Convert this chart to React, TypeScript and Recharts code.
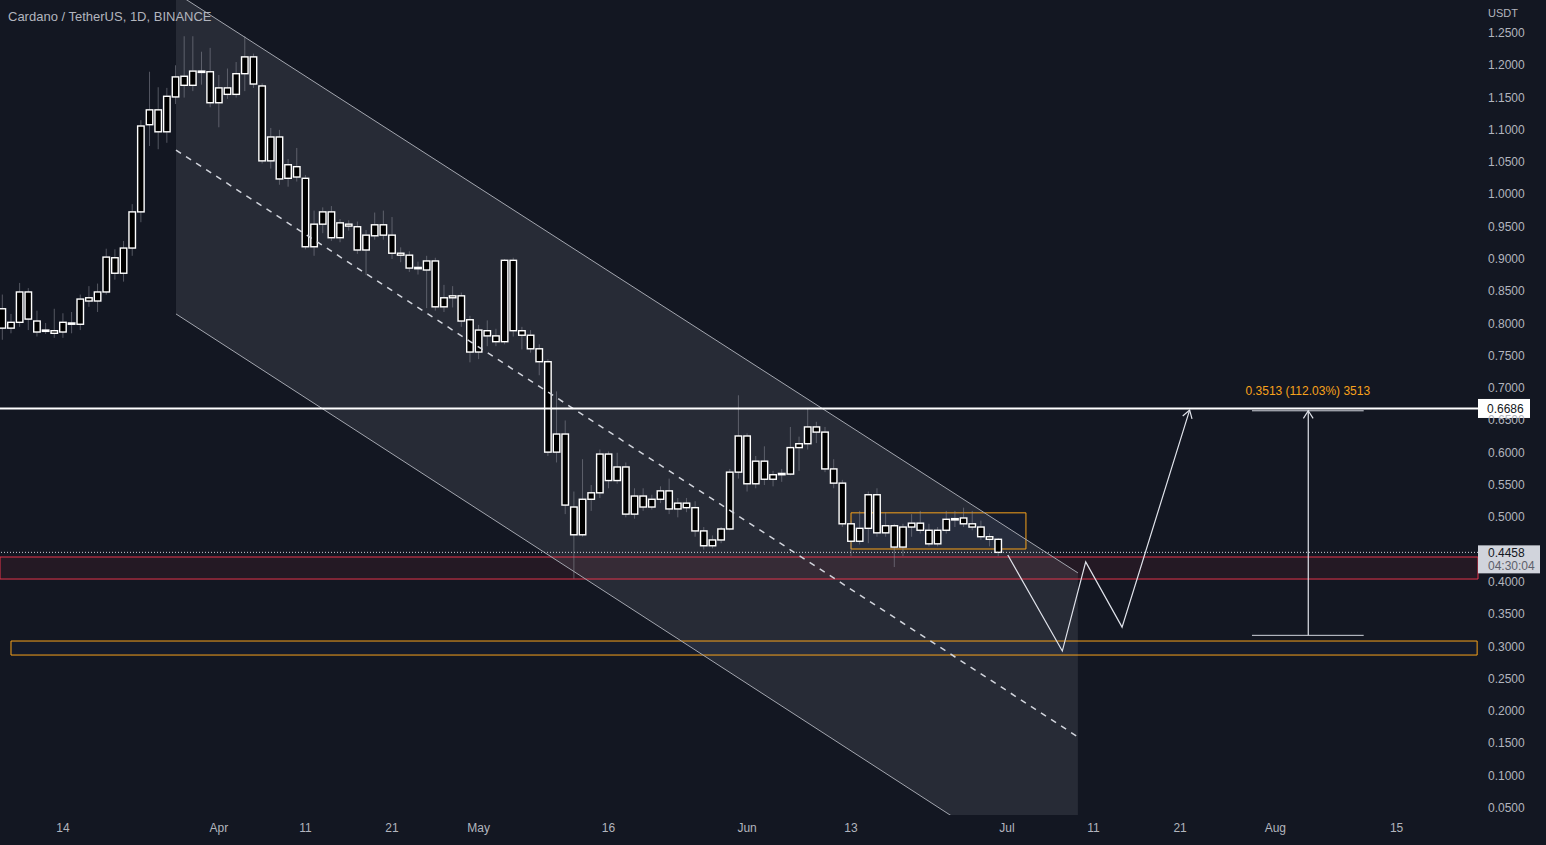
import React from 'react';
import { ComposedChart, Bar, Line, Area, XAxis, YAxis, ReferenceLine, ReferenceArea } from 'recharts';

// Day offsets are counted from 14 Mar 2022 (first candle: 7 Mar 2022)
const FIRST_DAY = -7;

const candleOpen = [
  0.823, 0.793, 0.802, 0.849, 0.804, 0.788, 0.789, 0.787, 0.801, 0.799,
  0.835, 0.835, 0.849, 0.902, 0.878, 0.917, 0.973, 1.108, 1.131, 1.097,
  1.151, 1.183, 1.169, 1.191, 1.190, 1.142, 1.165, 1.155, 1.187, 1.213,
  1.168, 1.052, 1.089, 1.025, 1.043, 1.025, 0.919, 0.954, 0.973, 0.933,
  0.954, 0.950, 0.914, 0.936, 0.953, 0.937, 0.909, 0.906, 0.885, 0.883,
  0.897, 0.826, 0.840, 0.843, 0.806, 0.756, 0.789, 0.781, 0.772, 0.898,
  0.789, 0.782, 0.761, 0.741, 0.601, 0.629, 0.516, 0.473, 0.528, 0.538,
  0.598, 0.557, 0.578, 0.505, 0.533, 0.516, 0.528, 0.541, 0.513, 0.522,
  0.515, 0.479, 0.456, 0.465, 0.482, 0.570, 0.626, 0.552, 0.587, 0.559,
  0.566, 0.567, 0.608, 0.614, 0.640, 0.632, 0.575, 0.553, 0.490, 0.463,
  0.483, 0.535, 0.476, 0.487, 0.454, 0.485, 0.491, 0.480, 0.459, 0.480,
  0.496, 0.499, 0.490, 0.485, 0.470, 0.466,
];
const candleClose = [
  0.793, 0.802, 0.849, 0.807, 0.787, 0.790, 0.785, 0.802, 0.799, 0.838,
  0.840, 0.849, 0.903, 0.878, 0.917, 0.973, 1.106, 1.131, 1.097, 1.152,
  1.182, 1.169, 1.191, 1.189, 1.142, 1.165, 1.155, 1.187, 1.213, 1.171,
  1.052, 1.089, 1.024, 1.046, 1.027, 0.919, 0.954, 0.973, 0.933, 0.956,
  0.951, 0.914, 0.937, 0.953, 0.937, 0.909, 0.906, 0.886, 0.887, 0.897,
  0.826, 0.840, 0.843, 0.804, 0.756, 0.790, 0.781, 0.772, 0.898, 0.789,
  0.782, 0.761, 0.741, 0.601, 0.629, 0.519, 0.473, 0.528, 0.538, 0.598,
  0.557, 0.578, 0.505, 0.533, 0.516, 0.528, 0.541, 0.513, 0.522, 0.515,
  0.479, 0.456, 0.465, 0.482, 0.570, 0.626, 0.552, 0.587, 0.559, 0.566,
  0.568, 0.608, 0.614, 0.640, 0.632, 0.575, 0.553, 0.490, 0.463, 0.483,
  0.535, 0.476, 0.487, 0.454, 0.485, 0.491, 0.480, 0.459, 0.480, 0.497,
  0.498, 0.490, 0.485, 0.470, 0.466, 0.4458,
];
const candleHigh = [
  0.845, 0.815, 0.863, 0.855, 0.820, 0.801, 0.823, 0.816, 0.818, 0.845,
  0.858, 0.862, 0.916, 0.915, 0.928, 0.985, 1.115, 1.190, 1.166, 1.165,
  1.200, 1.245, 1.245, 1.221, 1.227, 1.185, 1.195, 1.205, 1.245, 1.218,
  1.172, 1.103, 1.100, 1.055, 1.072, 1.030, 0.975, 0.980, 0.982, 0.962,
  0.960, 0.958, 0.945, 0.972, 0.975, 0.965, 0.918, 0.912, 0.896, 0.905,
  0.902, 0.860, 0.858, 0.848, 0.812, 0.798, 0.805, 0.792, 0.900, 0.902,
  0.795, 0.790, 0.768, 0.745, 0.695, 0.650, 0.540, 0.590, 0.550, 0.605,
  0.602, 0.600, 0.585, 0.545, 0.545, 0.535, 0.548, 0.560, 0.530, 0.530,
  0.525, 0.485, 0.472, 0.485, 0.575, 0.689, 0.630, 0.595, 0.610, 0.572,
  0.575, 0.640, 0.625, 0.669, 0.648, 0.640, 0.590, 0.558, 0.495, 0.510,
  0.540, 0.545, 0.508, 0.490, 0.490, 0.505, 0.510, 0.490, 0.485, 0.510,
  0.510, 0.515, 0.510, 0.495, 0.475, 0.468,
];
const candleLow = [
  0.775, 0.785, 0.795, 0.790, 0.780, 0.784, 0.778, 0.778, 0.785, 0.790,
  0.826, 0.818, 0.845, 0.868, 0.865, 0.905, 0.957, 1.075, 1.070, 1.080,
  1.140, 1.150, 1.160, 1.170, 1.135, 1.104, 1.148, 1.150, 1.160, 1.165,
  1.048, 1.040, 1.015, 1.012, 1.020, 0.915, 0.905, 0.940, 0.928, 0.926,
  0.944, 0.908, 0.875, 0.930, 0.930, 0.900, 0.895, 0.880, 0.876, 0.824,
  0.820, 0.818, 0.825, 0.795, 0.740, 0.745, 0.765, 0.765, 0.768, 0.780,
  0.760, 0.755, 0.720, 0.595, 0.585, 0.505, 0.405, 0.470, 0.510, 0.530,
  0.545, 0.552, 0.500, 0.498, 0.510, 0.512, 0.522, 0.505, 0.500, 0.508,
  0.470, 0.450, 0.452, 0.460, 0.480, 0.560, 0.540, 0.545, 0.550, 0.548,
  0.555, 0.565, 0.572, 0.605, 0.615, 0.570, 0.545, 0.485, 0.440, 0.458,
  0.460, 0.470, 0.470, 0.423, 0.440, 0.470, 0.475, 0.455, 0.455, 0.475,
  0.485, 0.485, 0.480, 0.465, 0.455, 0.440,
];

const xTickDays = [0, 18, 28, 38, 48, 63, 79, 91, 109, 119, 129, 140, 154];
const xTickLabels = ['14', 'Apr', '11', '21', 'May', '16', 'Jun', '13', 'Jul', '11', '21', 'Aug', '15'];
const yTicks = [1.25, 1.2, 1.15, 1.1, 1.05, 1.0, 0.95, 0.9, 0.85, 0.8, 0.75, 0.7, 0.65, 0.6, 0.55, 0.5, 0.4, 0.35, 0.3, 0.25, 0.2, 0.15, 0.1, 0.05];

const X_DOMAIN: [number, number] = [-7.27, 163.4];
const Y_DOMAIN: [number, number] = [0.0391, 1.3011];

// Descending channel (start / end day, prices)
const channelDays = [13.05, 117.2];
const channelUpperP = [1.312, 0.414];
const channelLowerP = [0.815, -0.089];
const channelMidP = [1.0688, 0.160];

// Projected path
const projDays = [109.1, 115.4, 118.1, 122.3, 130.1];
const projPrices = [0.4417, 0.293, 0.431, 0.330, 0.666];

// Levels & zones
const resistance = 0.6686;
const lastPrice = 0.4458;
const countdown = '04:30:04';
const redZone = [0.4045, 0.4386];
const supportZoneP = [0.2868, 0.3085];
const supportZoneD = [-6.0, 163.3];
const rangeBoxD = [91.0, 111.2];
const rangeBoxP = [0.451, 0.507];
const measureDay = 143.8;
const measureDays = [137.3, 150.2];
const measureP = [0.3173, 0.665];
const measureLabel = '0.3513 (112.03%) 3513';

const candles = candleOpen.map((o, i) => ({
  d: FIRST_DAY + i,
  open: o,
  close: candleClose[i],
  high: candleHigh[i],
  low: candleLow[i],
  range: [candleLow[i], candleHigh[i]],
}));

const bandData = channelDays.map((d, i) => ({ d, band: [channelLowerP[i], channelUpperP[i]] }));
const upperData = channelDays.map((d, i) => ({ d, p: channelUpperP[i] }));
const lowerData = channelDays.map((d, i) => ({ d, p: channelLowerP[i] }));
const midData = channelDays.map((d, i) => ({ d, p: channelMidP[i] }));
const projData = projDays.map((d, i) => ({ d, p: projPrices[i] }));
const measureData = measureP.map((p) => ({ d: measureDay, p }));

const BODY_W = 6.5;

const Candle = (props: any) => {
  const { x, y, width, height, payload } = props;
  if (!payload || height == null) return <g />;
  const { high, low, open, close } = payload;
  const h = Math.abs(height);
  const top = Math.min(y, y + height);
  const k = h / (high - low);
  const yOf = (p: number) => top + (high - p) * k;
  const cx = x + width / 2;
  const bTop = yOf(Math.max(open, close));
  const bBot = yOf(Math.min(open, close));
  return (
    <g>
      <line x1={cx} x2={cx} y1={top} y2={top + h} stroke="#8a8d97" strokeOpacity={0.55} strokeWidth={1} />
      <rect x={cx - BODY_W / 2} y={bTop} width={BODY_W} height={Math.max(bBot - bTop, 1)} fill="#000000" stroke="#ffffff" strokeWidth={1.4} />
    </g>
  );
};

function arrowDot(lastIndex: number, color: string) {
  let prev: { cx: number; cy: number } | null = null;
  return (props: any) => {
    const { cx, cy, index } = props;
    let el: any = <g key={`ad${index}`} />;
    if (index === lastIndex && prev) {
      const ang = Math.atan2(cy - prev.cy, cx - prev.cx);
      const L = 9;
      const a = Math.PI / 5.5;
      const x1 = cx - L * Math.cos(ang - a);
      const y1 = cy - L * Math.sin(ang - a);
      const x2 = cx - L * Math.cos(ang + a);
      const y2 = cy - L * Math.sin(ang + a);
      el = <path key={`ad${index}`} d={`M${x1},${y1}L${cx},${cy}L${x2},${y2}`} stroke={color} fill="none" strokeWidth={1.2} />;
    }
    prev = { cx, cy };
    return el;
  };
}

const YTick = (props: any) => {
  const { x, y, payload } = props;
  return (
    <text x={x} y={y} dy={4} fill="#b2b5be" fontSize={12} textAnchor="start">
      {Number(payload.value).toFixed(4)}
    </text>
  );
};

export default function App() {
  const font = '"Liberation Sans", Arial, sans-serif';
  return (
    <div style={{ position: 'absolute', left: 0, top: 0, width: 1546, height: 845, background: '#131722', fontFamily: font, overflow: 'hidden' }}>
      <ComposedChart width={1546} height={845} data={candles} margin={{ top: 0, right: 0, bottom: 0, left: 0 }} style={{ fontFamily: font }}>
        <XAxis
          dataKey="d"
          type="number"
          domain={X_DOMAIN}
          allowDataOverflow
          ticks={xTickDays}
          tickFormatter={(v: number) => xTickLabels[xTickDays.indexOf(v)] ?? ''}
          axisLine={false}
          tickLine={false}
          height={30}
          tick={{ fill: '#b2b5be', fontSize: 12 }}
          interval={0}
        />
        <YAxis
          orientation="right"
          type="number"
          domain={Y_DOMAIN}
          allowDataOverflow
          ticks={yTicks}
          axisLine={false}
          tickLine={false}
          width={68}
          tickMargin={4}
          tick={<YTick />}
          interval={0}
        />
        <Area data={bandData} dataKey="band" type="linear" stroke="none" fill="#787b86" fillOpacity={0.2} isAnimationActive={false} activeDot={false} dot={false} />
        <ReferenceArea x1={supportZoneD[0]} x2={supportZoneD[1]} y1={supportZoneP[0]} y2={supportZoneP[1]} fill="#2962ff" fillOpacity={0.04} stroke="#f7a21b" strokeWidth={1} />
        <ReferenceArea y1={redZone[0]} y2={redZone[1]} fill="#f23645" fillOpacity={0.08} stroke="#e5354b" strokeWidth={1} />
        <ReferenceArea x1={rangeBoxD[0]} x2={rangeBoxD[1]} y1={rangeBoxP[0]} y2={rangeBoxP[1]} fill="#2962ff" fillOpacity={0.04} stroke="#f7a21b" strokeWidth={1} />
        <Line data={upperData} dataKey="p" type="linear" stroke="#a3a6af" strokeWidth={1} dot={false} activeDot={false} isAnimationActive={false} />
        <Line data={lowerData} dataKey="p" type="linear" stroke="#a3a6af" strokeWidth={1} dot={false} activeDot={false} isAnimationActive={false} />
        <Line data={midData} dataKey="p" type="linear" stroke="#d1d4dc" strokeWidth={1.5} strokeDasharray="6 6" dot={false} activeDot={false} isAnimationActive={false} />
        <ReferenceLine
          y={lastPrice}
          stroke="#d1d4dc"
          strokeWidth={1}
          strokeDasharray="1 2"
          label={(p: any) => {
            const vb = p.viewBox || {};
            const x = (vb.x || 0) + (vb.width || 0);
            const y = vb.y || 0;
            return (
              <g>
                <rect x={x} y={y - 7} width={62} height={28} fill="#d1d4dc" />
                <text x={x + 10} y={y + 5} fontSize={12} fill="#131722">{lastPrice.toFixed(4)}</text>
                <text x={x + 10} y={y + 18} fontSize={12} fill="#5d606b">{countdown}</text>
              </g>
            );
          }}
        />
        <Bar dataKey="range" barSize={6} isAnimationActive={false} activeBar={false} shape={(p: any) => <Candle {...p} />} />
        <ReferenceLine
          y={resistance}
          stroke="#ffffff"
          strokeWidth={2}
          label={(p: any) => {
            const vb = p.viewBox || {};
            const x = (vb.x || 0) + (vb.width || 0);
            const y = vb.y || 0;
            return (
              <g>
                <rect x={x} y={y - 9.5} width={52} height={19} fill="#ffffff" />
                <text x={x + 9} y={y + 4.5} fontSize={12} fill="#131722">{resistance.toFixed(4)}</text>
              </g>
            );
          }}
        />
        <Line data={projData} dataKey="p" type="linear" stroke="#e0e3eb" strokeWidth={1.2} dot={arrowDot(projData.length - 1, '#e0e3eb')} activeDot={false} isAnimationActive={false} />
        <ReferenceLine segment={[{ x: measureDays[0], y: measureP[0] }, { x: measureDays[1], y: measureP[0] }]} stroke="#d1d4dc" strokeWidth={1} />
        <ReferenceLine
          segment={[{ x: measureDays[0], y: measureP[1] }, { x: measureDays[1], y: measureP[1] }]}
          stroke="#d1d4dc"
          strokeWidth={1}
          label={{ value: measureLabel, position: 'top', fill: '#f7a21b', fontSize: 12, offset: 16 }}
        />
        <Line data={measureData} dataKey="p" type="linear" stroke="#e0e3eb" strokeWidth={1.2} dot={arrowDot(measureData.length - 1, '#e0e3eb')} activeDot={false} isAnimationActive={false} />
      </ComposedChart>
      <div style={{ position: 'absolute', left: 8, top: 9, fontSize: 13, color: '#b2b5be', whiteSpace: 'nowrap' }}>Cardano / TetherUS, 1D, BINANCE</div>
      <div style={{ position: 'absolute', left: 1488, top: 7, fontSize: 11, color: '#b2b5be' }}>USDT</div>
    </div>
  );
}
